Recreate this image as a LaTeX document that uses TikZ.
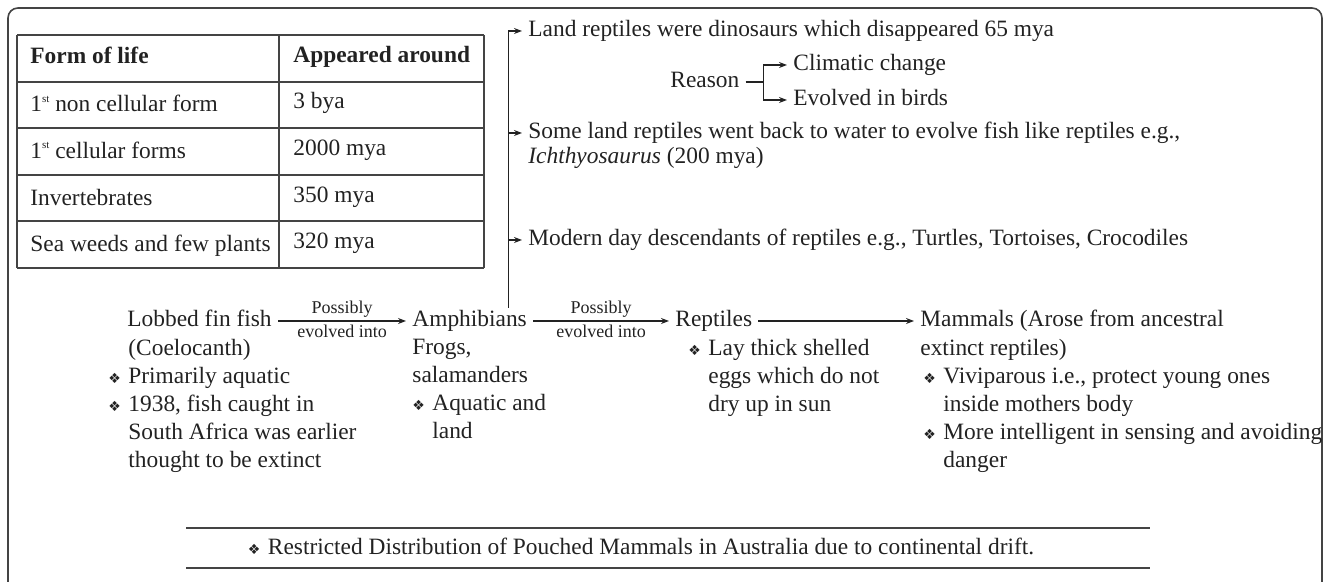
\documentclass[tikz,border=0pt]{standalone}
\usepackage{fontspec}
\setmainfont{Liberation Serif}
\newfontfamily\symfont{DejaVu Sans}
\usetikzlibrary{arrows.meta, positioning}
\definecolor{inkgray}{HTML}{222222}
\definecolor{rulegray}{HTML}{444444}
\newcommand{\bul}{\makebox[10pt][l]{\symfont\fontsize{7}{7}\selectfont ❖}}
\newcommand{\ind}{\makebox[10pt]{}}
\newcommand{\ord}[1]{\raisebox{0.9ex}{\fontsize{5.5}{5.5}\selectfont #1}}
\tikzset{
  txt/.style={anchor=west, inner xsep=3pt, inner ysep=1pt, text height=8pt, text depth=2.6pt, text=inkgray},
  notes/.style={anchor=north west, align=left, inner xsep=3pt, inner ysep=1pt, text=inkgray},
  lbl/.style={font=\fontsize{9}{10}\selectfont, inner sep=1.5pt, text=inkgray},
  evo/.style={-{Stealth[length=4pt,width=3pt]}, line width=0.6pt, draw=inkgray}
}

\begin{document}
\begin{tikzpicture}[x=0.5pt, y=-0.5pt, font=\fontsize{11.7}{14}\selectfont]
  \useasboundingbox (0,0) rectangle (1330,582);
  % outer frame, open at the bottom
  \draw[rulegray, line width=0.8pt, rounded corners=5pt] (8,582) -- (8,8) -- (1322,8) -- (1322,582);

  % Table: form of life and when it appeared
  \foreach \y in {35,81.6,128.2,174.8,221.4,268}
    \draw[rulegray, line width=1pt] (17,\y) -- (484,\y);
  \foreach \x in {17,279,484}
    \draw[rulegray, line width=1pt] (\x,35) -- (\x,268);
  \node[txt] (hlife) at (24,58) {\textbf{Form of life}};
  \node[txt] (hwhen) at (287,57) {\textbf{Appeared around}};
  \foreach \life/\when [count=\r] in {{1\ord{st} non cellular form}/{3 bya},
      {1\ord{st} cellular forms}/{2000 mya}, {Invertebrates}/{350 mya},
      {Sea weeds and few plants}/{320 mya}}
  {
    \node[txt] (life\r) at (24,{60+46.6*\r}) {\life};
    \node[txt] (when\r) at (287,{57+46.6*\r}) {\when};
  }

  % Main line of evolution
  \node[txt] (fish) at (121,321) {Lobbed fin fish};
  \node[txt] (amph) at (406,321) {Amphibians};
  \node[txt] (rept) at (669,321) {Reptiles};
  \node[txt] (mammal) at (914,321) {Mammals (Arose from ancestral};
  \draw[evo] (fish) -- node[lbl, above]{Possibly} node[lbl, below]{evolved into} (amph);
  \draw[evo] (amph) -- node[lbl, above]{Possibly} node[lbl, below]{evolved into} (rept);
  \draw[evo] (rept) -- (mammal);

  % Notes under each group
  \node[notes] (fishnote) at (102,337) {\ind(Coelocanth)\\\bul Primarily aquatic\\
    \bul 1938, fish caught in\\\ind South Africa was earlier\\\ind thought to be extinct};
  \node[notes] (amphnote) at (406,337) {Frogs,\\salamanders\\\bul Aquatic and\\\ind land};
  \node[notes] (reptnote) at (682,337) {\bul Lay thick shelled\\\ind eggs which do not\\\ind dry up in sun};
  \node[notes] (mammalnote) at (914,337) {extinct reptiles)\\
    \kern1.5pt\bul Viviparous i.e., protect young ones\\\kern1.5pt\ind inside mothers body\\
    \kern1.5pt\bul More intelligent in sensing and avoiding\\\kern1.5pt\ind danger};

  % Branches of the reptiles
  \node[txt] (dino) at (522,31) {Land reptiles were dinosaurs which disappeared 65 mya};
  \node[txt] (reason) at (664,82) {Reason};
  \node[txt] (climate) at (787,65) {Climatic change};
  \node[txt] (birds) at (787,100) {Evolved in birds};
  \node[txt] (backsea) at (522,133) {Some land reptiles went back to water to evolve fish like reptiles e.g.,};
  \node[txt] (ichthy) at (522,158) {\textit{Ichthyosaurus} (200 mya)};
  \node[txt] (modern) at (522,240) {Modern day descendants of reptiles e.g., Turtles, Tortoises, Crocodiles};

  \coordinate (trunk) at ([xshift=-12.5pt]amph.north east);
  \draw[evo] (trunk) |- (dino.west);
  \draw[evo] (trunk |- backsea) -- (backsea.west);
  \draw[evo] (trunk |- modern) -- (modern.west);
  \coordinate (fork) at ([xshift=9pt]reason.east);
  \draw[line width=0.6pt, inkgray] (reason.east) -- (fork);
  \draw[evo] (fork) |- (climate.west);
  \draw[evo] (fork) |- (birds.west);

  % Footnote between two rules
  \draw[rulegray, line width=1pt] (186,528) -- (1150,528);
  \draw[rulegray, line width=1pt] (186,568) -- (1150,568);
  \node[txt, anchor=center] (drift) at (641,549) {\bul Restricted Distribution of Pouched Mammals in Australia due to continental drift.};
\end{tikzpicture}
\end{document}
